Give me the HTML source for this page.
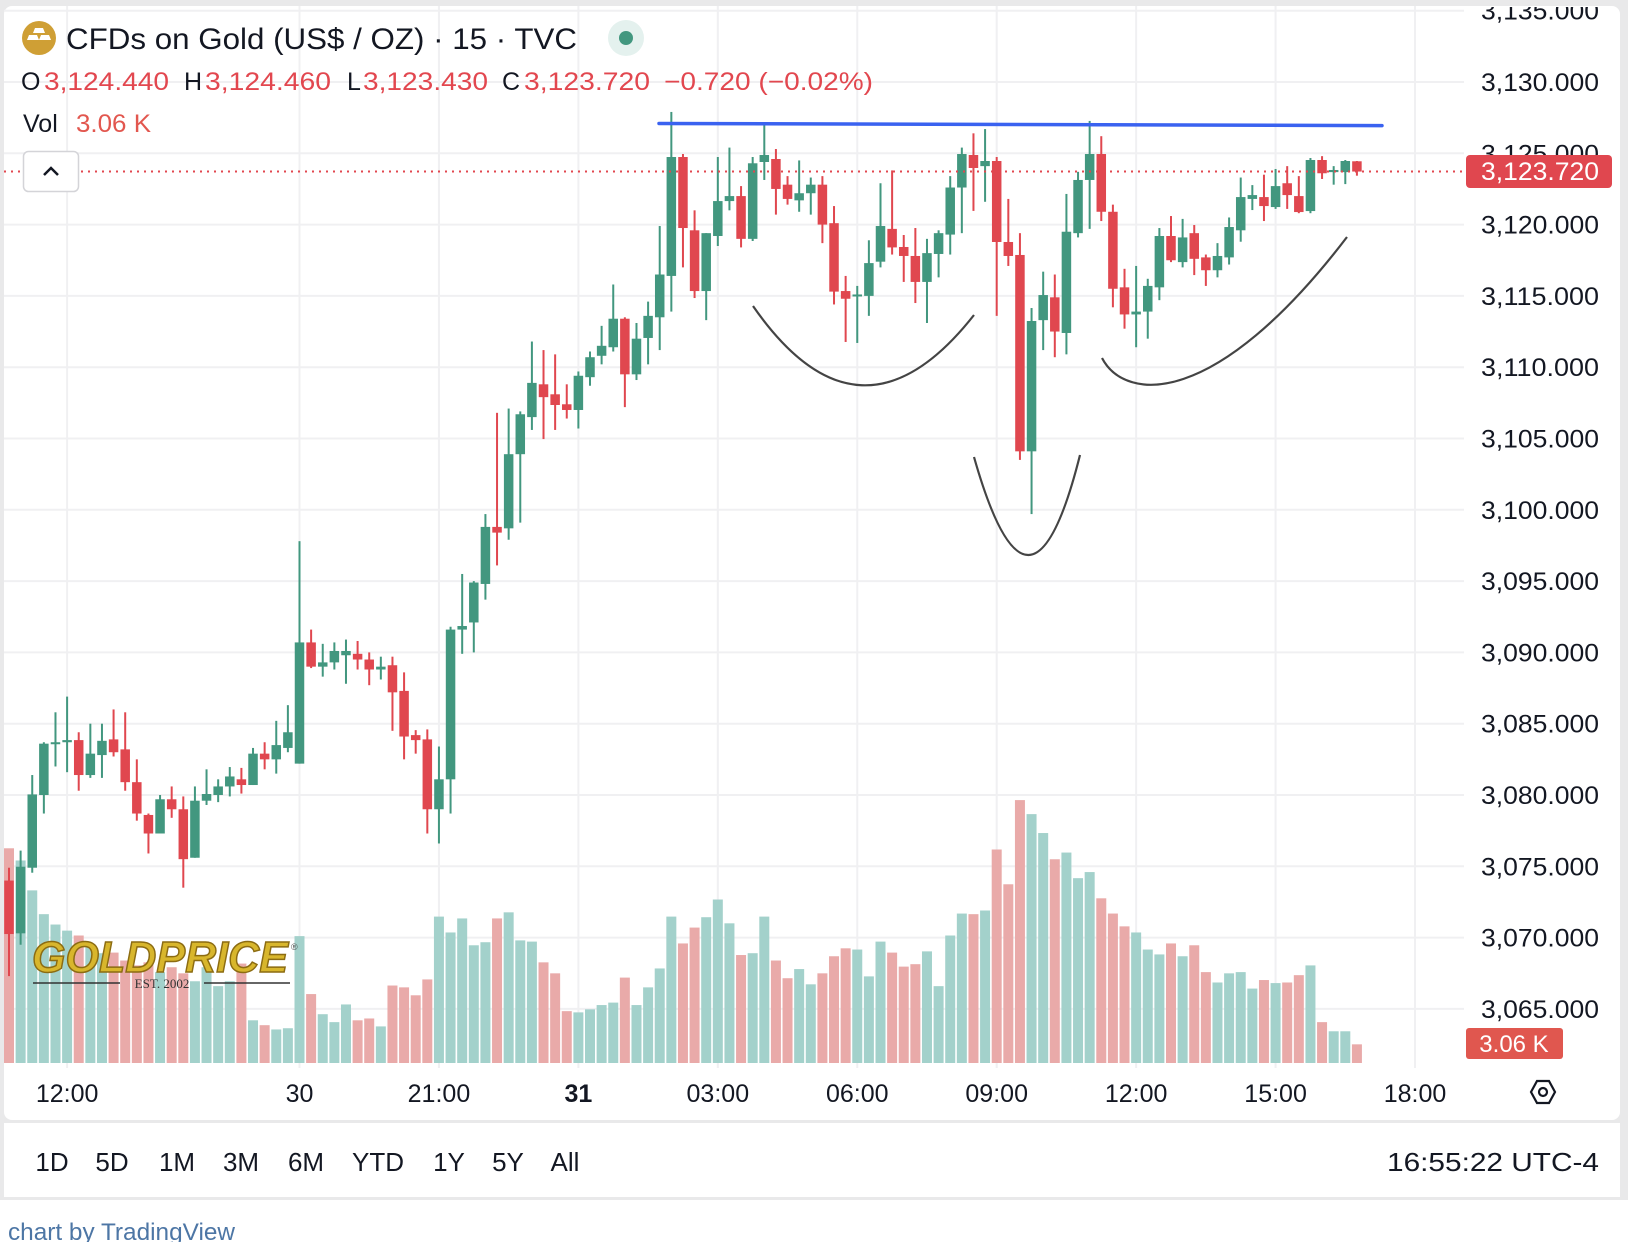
<!DOCTYPE html>
<html><head><meta charset="utf-8">
<style>
html,body{margin:0;padding:0;background:#fff;}
svg{display:block;font-family:"Liberation Sans",Arial,sans-serif;}
</style></head>
<body>
<svg id="chart" width="1628" height="1242" viewBox="0 0 1628 1242" xmlns="http://www.w3.org/2000/svg">
  <rect x="0" y="0" width="1628" height="1200" fill="#e9e9ea"/>
  <rect x="4" y="6" width="1616" height="1114" rx="8" fill="#ffffff"/>
  <rect x="4" y="1123" width="1616" height="74" fill="#ffffff"/>
  <rect x="0" y="1200" width="1628" height="42" fill="#ffffff"/>
  <g id="grid"></g>
  <g id="volumes"></g>
  <g id="candles"></g>

  <line x1="659" y1="123.5" x2="1382" y2="125.6" stroke="#3a62f0" stroke-width="3.5" stroke-linecap="round"/>
  <path d="M753,306 Q860,460 974,315" fill="none" stroke="#444" stroke-width="2.2"/>
  <path d="M974,457 Q1030,654 1080,455" fill="none" stroke="#444" stroke-width="2.2"/>
  <path d="M1102,358 C1125,402 1215,410 1347,237" fill="none" stroke="#444" stroke-width="2.2"/>

  <line id="lastLine" x1="4" x2="1466" stroke="#e2474f" stroke-width="2" stroke-dasharray="2,5"/>
  <g id="yaxis"></g>
  <g id="xaxis"></g>

  <rect x="1466" y="155" width="146" height="33" rx="4" fill="#e0474f"/>
  <text x="1481" y="180" font-size="25" fill="#fff" textLength="118" lengthAdjust="spacingAndGlyphs">3,123.720</text>
  <rect x="1466" y="1028" width="97" height="31" rx="3" fill="#e0574f"/>
  <text x="1514" y="1052" font-size="24" fill="#fff" text-anchor="middle">3.06 K</text>

  <g>
    <text x="32" y="972" font-size="44" font-weight="bold" font-style="italic" fill="#d8b62c" stroke="#8c6c12" stroke-width="1.5" textLength="256" lengthAdjust="spacingAndGlyphs">GOLDPRICE</text>
    <text x="291" y="950" font-size="9" fill="#555">®</text>
    <line x1="33" y1="983" x2="120" y2="983" stroke="#333" stroke-width="1.5"/>
    <line x1="204" y1="983" x2="290" y2="983" stroke="#333" stroke-width="1.5"/>
    <text x="162" y="988" font-size="13" font-family="Liberation Serif, serif" fill="#333" text-anchor="middle">EST. 2002</text>
  </g>

  <circle cx="39" cy="38" r="17" fill="#cf9f35"/>
  <g fill="#fff">
    <polygon points="35,28 43,28 45,33 33,33"/>
    <polygon points="29,35 37,35 39,40 27,40"/>
    <polygon points="41,35 49,35 51,40 39,40"/>
  </g>
  <text x="66" y="49" font-size="30" fill="#131722" textLength="511" lengthAdjust="spacingAndGlyphs">CFDs on Gold (US$ / OZ) · 15 · TVC</text>
  <circle cx="626" cy="38" r="18" fill="#e4f1ee"/>
  <circle cx="626" cy="38" r="7" fill="#42977f"/>
  <g font-size="25">
    <text x="21" y="90" fill="#131722">O</text>
    <text x="44" y="90" fill="#e2474f" textLength="125" lengthAdjust="spacingAndGlyphs">3,124.440</text>
    <text x="184" y="90" fill="#131722">H</text>
    <text x="205" y="90" fill="#e2474f" textLength="126" lengthAdjust="spacingAndGlyphs">3,124.460</text>
    <text x="347" y="90" fill="#131722">L</text>
    <text x="363" y="90" fill="#e2474f" textLength="125" lengthAdjust="spacingAndGlyphs">3,123.430</text>
    <text x="502" y="90" fill="#131722">C</text>
    <text x="524" y="90" fill="#e2474f" textLength="126" lengthAdjust="spacingAndGlyphs">3,123.720</text>
    <text x="664" y="90" fill="#e2474f" textLength="209" lengthAdjust="spacingAndGlyphs">−0.720 (−0.02%)</text>
  </g>
  <text x="23" y="132" font-size="25" fill="#131722">Vol</text>
  <text x="76" y="132" font-size="25" fill="#e2574f" textLength="75" lengthAdjust="spacingAndGlyphs">3.06 K</text>
  <rect x="23.5" y="151.5" width="55" height="40" rx="5" fill="#fff" stroke="#d4d4d8" stroke-width="1.5"/>
  <polyline points="44,175 51,168 58,175" fill="none" stroke="#131722" stroke-width="2.5"/>

  <g>
    <polygon points="1531,1092 1537,1081 1549,1081 1555,1092 1549,1103 1537,1103" fill="none" stroke="#131722" stroke-width="2.2"/>
    <circle cx="1543" cy="1092" r="4" fill="none" stroke="#131722" stroke-width="2.2"/>
  </g>

  <g font-size="26" fill="#131722" text-anchor="middle">
    <text x="52" y="1171">1D</text>
    <text x="112" y="1171">5D</text>
    <text x="177" y="1171">1M</text>
    <text x="241" y="1171">3M</text>
    <text x="306" y="1171">6M</text>
    <text x="378" y="1171">YTD</text>
    <text x="449" y="1171">1Y</text>
    <text x="508" y="1171">5Y</text>
    <text x="565" y="1171">All</text>
  </g>
  <text x="1387" y="1171" font-size="26" fill="#131722" textLength="212" lengthAdjust="spacingAndGlyphs">16:55:22 UTC-4</text>
  <text x="8" y="1240" font-size="24" fill="#4d76a5" textLength="227" lengthAdjust="spacingAndGlyphs">chart by TradingView</text>

  <defs><clipPath id="axclip"><rect x="1420" y="7" width="200" height="1050"/></clipPath></defs>
</svg>
<script>
const opens=[3074.0,3070.3,3074.9,3080.0,3083.6,3083.7,3083.85,3081.4,3082.8,3083.9,3083.2,3080.9,3078.6,3077.3,3079.7,3079.0,3075.6,3079.6,3080.0,3080.6,3081.1,3080.7,3082.9,3082.5,3083.3,3082.2,3090.7,3089.0,3089.3,3089.8,3089.9,3089.5,3088.8,3089.1,3087.3,3084.2,3083.9,3079.0,3081.1,3091.6,3092.1,3094.8,3098.8,3098.7,3103.9,3106.5,3108.8,3108.1,3107.4,3107.0,3109.3,3110.8,3111.4,3113.4,3109.5,3112.05,3113.5,3116.4,3124.74,3119.6,3115.34,3119.2,3121.65,3122.0,3119.0,3124.39,3124.6,3122.8,3121.7,3122.2,3122.8,3120.1,3115.34,3115.0,3115.0,3117.4,3119.7,3118.43,3117.8,3115.98,3117.94,3119.3,3122.6,3124.88,3124.1,3124.46,3118.78,3117.87,3104.1,3113.3,3114.9,3112.4,3119.4,3123.13,3124.95,3120.9,3115.6,3113.7,3113.9,3115.6,3119.2,3117.37,3119.4,3117.7,3116.8,3117.7,3119.6,3121.8,3121.93,3121.23,3122.9,3122.0,3120.95,3124.53,3123.68,3123.68,3124.44];
const highs=[3074.9,3076.1,3081.4,3083.7,3085.8,3086.9,3084.4,3085.0,3085.0,3086.0,3085.8,3082.5,3078.7,3080.0,3080.6,3079.9,3080.6,3081.8,3081.1,3081.96,3081.9,3083.3,3083.7,3085.2,3086.3,3097.8,3091.6,3090.6,3090.7,3090.9,3090.8,3090.0,3089.7,3089.7,3088.6,3084.55,3084.6,3083.4,3091.8,3095.5,3095.0,3099.7,3106.8,3107.1,3106.9,3111.8,3111.2,3110.9,3108.8,3109.7,3111.1,3112.9,3115.8,3113.5,3113.1,3114.6,3119.9,3127.9,3124.95,3121.0,3119.4,3124.74,3125.4,3122.7,3124.74,3127.1,3125.3,3123.4,3124.5,3123.3,3123.4,3121.3,3116.4,3115.7,3118.9,3122.9,3123.8,3119.27,3119.76,3119.0,3119.6,3123.4,3125.4,3126.4,3126.7,3124.74,3121.8,3119.4,3114.15,3116.7,3116.5,3122.15,3123.7,3127.27,3126.2,3121.4,3116.9,3117.1,3116.2,3119.76,3120.6,3120.4,3119.97,3117.9,3118.7,3120.5,3123.3,3122.77,3123.5,3123.9,3124.1,3123.4,3124.67,3124.8,3124.1,3124.53,3124.46];
const lows=[3067.3,3069.5,3074.55,3078.7,3082.0,3081.6,3080.3,3081.2,3081.2,3082.7,3080.3,3078.2,3075.9,3077.3,3078.4,3073.5,3075.6,3079.3,3079.5,3079.9,3080.1,3080.7,3081.8,3081.5,3083.0,3082.2,3088.9,3088.3,3088.8,3087.8,3088.8,3087.7,3088.1,3084.5,3082.5,3082.9,3077.3,3076.6,3078.7,3089.9,3090.0,3093.7,3096.1,3097.9,3099.1,3105.6,3104.96,3105.6,3106.4,3105.7,3108.7,3110.2,3111.1,3107.2,3109.1,3110.2,3111.2,3113.9,3117.0,3114.85,3113.3,3118.5,3121.0,3118.4,3118.85,3123.13,3120.7,3121.4,3120.9,3120.7,3118.7,3114.4,3111.77,3111.7,3113.6,3117.0,3117.9,3115.98,3114.5,3113.1,3116.3,3117.9,3119.4,3120.96,3121.6,3113.6,3117.1,3103.5,3099.7,3111.2,3110.7,3110.9,3119.1,3119.7,3120.25,3114.2,3112.7,3111.4,3112.0,3114.7,3117.37,3117.0,3116.46,3115.7,3116.3,3117.2,3118.8,3121.02,3120.25,3121.1,3121.1,3120.8,3120.8,3123.2,3122.8,3122.84,3123.43];
const closes=[3070.25,3074.97,3080.04,3083.6,3083.7,3083.85,3081.4,3082.9,3083.8,3083.0,3080.9,3078.7,3077.3,3079.7,3079.0,3075.5,3079.6,3080.07,3080.6,3081.3,3080.7,3082.9,3082.5,3083.5,3084.4,3090.7,3089.0,3089.3,3090.1,3090.1,3089.5,3088.8,3089.0,3087.2,3084.1,3083.85,3079.0,3081.1,3091.6,3091.85,3094.9,3098.8,3098.4,3103.9,3106.7,3108.9,3107.9,3107.35,3107.0,3109.4,3110.7,3111.5,3113.4,3109.5,3112.0,3113.6,3116.5,3124.74,3119.76,3115.34,3119.4,3121.65,3122.0,3119.0,3124.3,3124.88,3122.5,3121.8,3122.2,3122.8,3120.0,3115.3,3114.8,3115.1,3117.3,3119.9,3118.4,3117.8,3115.98,3118.0,3119.4,3122.6,3124.95,3123.97,3124.46,3118.78,3117.8,3104.1,3113.24,3115.06,3112.5,3119.5,3123.13,3124.95,3120.9,3115.5,3113.7,3113.9,3115.7,3119.2,3117.5,3119.1,3117.6,3116.8,3117.8,3119.83,3121.93,3122.07,3121.3,3122.7,3122.07,3120.88,3124.53,3123.6,3123.83,3124.46,3123.72];
const volumes=[35.2,33.2,28.3,24.4,22.7,21.7,20.9,19,18,18.1,16.8,16,16.5,14.9,15.7,14.7,13.4,15.7,12.6,13.4,16.3,7.0,6.2,5.5,5.7,20.8,11.3,8.0,6.7,9.6,7.0,7.3,6.0,12.7,12.4,11.1,13.7,24.0,21.4,23.7,19.3,19.8,23.7,24.7,20.1,19.9,16.5,14.7,8.5,8.3,8.8,9.5,9.9,14.0,9.5,12.4,15.5,24.0,19.6,22.2,23.9,26.8,22.9,17.7,18.0,24.0,16.8,13.9,15.4,12.9,14.7,17.5,18.8,18.6,14.2,19.9,18.1,15.8,16.2,18.3,12.6,20.9,24.5,24.4,25.0,35.0,29.3,43.1,40.8,37.7,33.4,34.5,30.3,31.3,27.0,24.5,22.4,21.4,18.6,17.8,19.6,17.5,19.3,14.9,13.2,14.7,14.9,12.2,13.6,13.1,13.2,14.4,16.0,6.7,5.2,5.2,3.06];
const priceTicks=[3065,3070,3075,3080,3085,3090,3095,3100,3105,3110,3115,3120,3125,3130,3135];
const timeTickIndex=[5,25,37,49,61,73,85,97,109,121];
const timeTickLabels=["12:00","30","21:00","31","03:00","06:00","09:00","12:00","15:00","18:00"];
const lastPrice=3123.72;

const NS="http://www.w3.org/2000/svg";
function xScale(i){return 9+i*11.62;}
function yScale(p){return 82+(3130-p)*14.26;}
function vScale(v){return v*6.1;}
const VOL_BASE=1063;
function mk(tag,attrs,parent){const e=document.createElementNS(NS,tag);for(const k in attrs)e.setAttribute(k,attrs[k]);parent.appendChild(e);return e;}

const grid=document.getElementById('grid');
priceTicks.forEach(function(p){
  const l=mk('line',{x1:4,x2:1464,y1:yScale(p),y2:yScale(p),stroke:'#f0f0f2','stroke-width':2},grid);
  
  
});
timeTickIndex.forEach(function(i){
  const l=mk('line',{x1:xScale(i),x2:xScale(i),y1:6,y2:1068,stroke:'#f0f0f2','stroke-width':2},grid);
  
  
});

const vg=document.getElementById('volumes');
volumes.forEach(function(v,i){
  const up=closes[i]>=opens[i];
  const h=vScale(v);
  const r=mk('rect',{x:xScale(i)-5,y:VOL_BASE-h,width:10,height:h,fill:up?'#a3d1cb':'#e9aaa9'},vg);
  
  
});

const cg=document.getElementById('candles');
opens.forEach(function(o,i){
  const c=closes[i],up=c>=o,col=up?'#42977f':'#e0474f',x=xScale(i);
  const g=mk('g',{},cg);
  
  
  mk('rect',{x:x-1,y:yScale(highs[i]),width:2,height:Math.max(1,yScale(lows[i])-yScale(highs[i])),fill:col},g);
  const top=yScale(Math.max(o,c)),bot=yScale(Math.min(o,c));
  mk('rect',{x:x-4.75,y:top,width:9.5,height:Math.max(2,bot-top),fill:col},g);
});

const ll=document.getElementById('lastLine');
ll.setAttribute('y1',yScale(lastPrice));ll.setAttribute('y2',yScale(lastPrice));

const ya=document.getElementById('yaxis');
ya.setAttribute('clip-path','url(#axclip)');
priceTicks.forEach(function(p){
  const t=mk('text',{x:1481,y:yScale(p)+9,'font-size':25,fill:'#131722',textLength:118,lengthAdjust:'spacingAndGlyphs'},ya);
  
  
  t.textContent=p.toLocaleString('en-US',{minimumFractionDigits:3,maximumFractionDigits:3});
});

const xa=document.getElementById('xaxis');
timeTickIndex.forEach(function(i,k){
  const t=mk('text',{x:xScale(i),y:1102,'font-size':25,fill:'#131722','text-anchor':'middle'},xa);
  if(timeTickLabels[k]==='31')t.setAttribute('font-weight','bold');
  
  
  t.textContent=timeTickLabels[k];
});
</script>
</body></html>
